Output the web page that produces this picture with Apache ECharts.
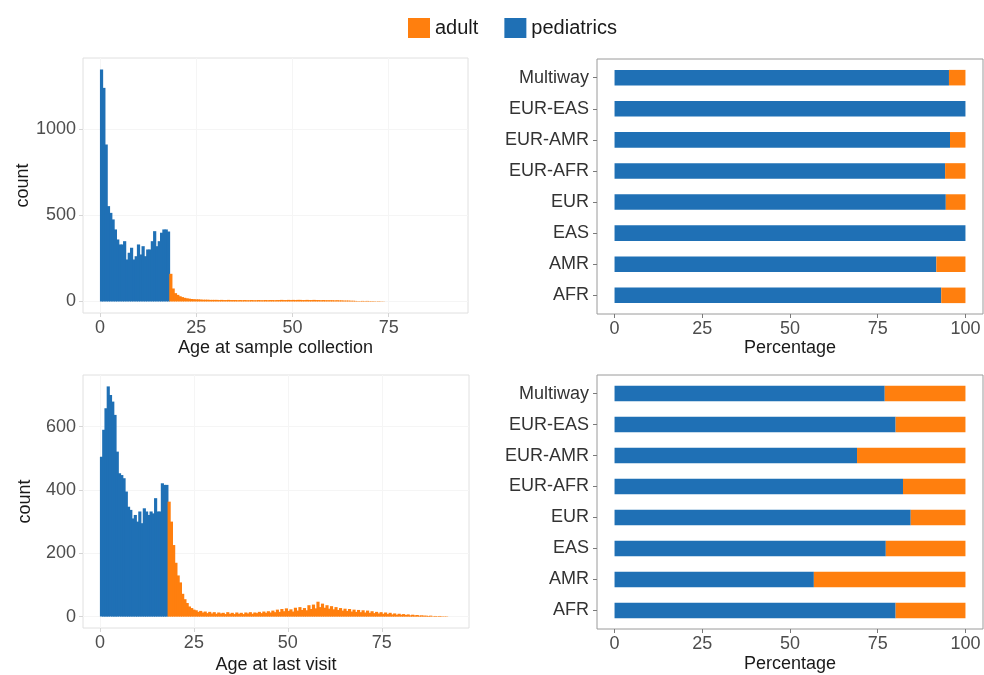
<!DOCTYPE html>
<html>
<head>
<meta charset="utf-8">
<script src="https://cdn.jsdelivr.net/npm/echarts@6/dist/echarts.min.js"></script>
<style>
  html, body { margin: 0; padding: 0; background: #ffffff; }
  #chart { width: 984px; height: 675px; }
</style>
</head>
<body>
<div id="chart"></div>
<script>
// Histogram bins: equal-width age bins (years); pediatric bins start at 0, adult bins at 18
const BIN_WIDTH = 0.6;
const PEDIATRIC_START = 0;
const ADULT_START = 18;

// Age at sample collection — counts per bin
const sampleAgePediatrics = [
  1343, 1237, 909, 552, 513, 475, 417, 359, 330, 330,
  349, 243, 282, 311, 243, 262, 330, 272, 320, 262,
  301, 301, 349, 407, 320, 349, 398, 417, 417, 405
];
const sampleAgeAdult = [
  160, 75, 48, 38, 30, 25, 21, 18, 16, 14,
  13, 12, 12, 11, 10, 10, 10, 9, 9, 9,
  9, 8, 9, 8, 8, 9, 8, 8, 8, 7,
  8, 7, 8, 7, 7, 8, 7, 7, 8, 7,
  7, 8, 7, 8, 8, 7, 8, 8, 9, 8,
  8, 9, 8, 9, 8, 9, 9, 8, 8, 9,
  8, 8, 9, 8, 8, 7, 8, 7, 7, 7,
  7, 6, 7, 6, 6, 5, 5, 5, 4, 4,
  3, 2, 2, 3, 2, 3, 2, 2, 2, 1,
  2, 1, 1, 0, 0, 0, 0, 0, 0, 0
];

// Age at last visit — counts per bin
const visitAgePediatrics = [
  505, 590, 658, 727, 700, 679, 637, 521, 453, 447,
  437, 395, 347, 337, 310, 321, 300, 332, 295, 342,
  332, 321, 332, 326, 374, 332, 332, 421, 416, 416
];
const visitAgeAdult = [
  363, 300, 226, 170, 130, 108, 72, 55, 43, 32,
  27, 22, 20, 15, 18, 13, 16, 11, 15, 10,
  14, 9, 13, 10, 12, 8, 14, 9, 12, 8,
  13, 9, 12, 8, 13, 10, 14, 9, 13, 11,
  15, 11, 16, 12, 17, 13, 19, 14, 22, 15,
  24, 17, 26, 18, 23, 16, 28, 19, 30, 21,
  27, 20, 36, 24, 38, 26, 47, 30, 41, 28,
  36, 25, 33, 23, 30, 21, 27, 19, 25, 18,
  24, 16, 22, 15, 21, 14, 20, 13, 19, 12,
  17, 11, 15, 10, 14, 9, 13, 8, 12, 7,
  10, 6, 9, 6, 8, 5, 7, 4, 6, 4,
  5, 3, 4, 3, 3, 2, 3, 1, 2, 1,
  2, 1, 1, 1
];

// Ancestry groups, bottom to top
const ancestryGroups = ['AFR', 'AMR', 'EAS', 'EUR', 'EUR-AFR', 'EUR-AMR', 'EUR-EAS', 'Multiway'];
// Pediatric share (%) per group; the remainder is adult
const pediatricShareSample = [93.1, 91.7, 100, 94.4, 94.2, 95.6, 100, 95.3];
const pediatricShareVisit = [80.1, 56.8, 77.3, 84.4, 82.2, 69.1, 80.1, 77.0];

// Tick labels
const ageTicks = [0, 25, 50, 75];
const sampleCountTicks = [0, 500, 1000];
const visitCountTicks = [0, 200, 400, 600];
const percentTicks = [0, 25, 50, 75, 100];

const COLOR_PEDIATRICS = '#1f70b5';
const COLOR_ADULT = '#ff7f0e';
const FONT = '"Liberation Sans", Arial, Helvetica, sans-serif';
const BAR_THICKNESS = 0.5;

function toBins(counts, start) {
  return counts.map((c, i) => [start + i * BIN_WIDTH, start + (i + 1) * BIN_WIDTH, c]);
}

// Histogram bin: each rect overlaps its right neighbour slightly so no seams show
function histRect(params, api) {
  const top = api.coord([api.value(0), api.value(2)]);
  const base = api.coord([api.value(1), 0]);
  return {
    type: 'rect',
    shape: { x: top[0], y: top[1], width: base[0] - top[0] + 0.9, height: base[1] - top[1] },
    style: { fill: api.visual('color') }
  };
}

function barRect(params, api) {
  const row = api.value(0);
  const a = api.coord([api.value(1), row]);
  const b = api.coord([api.value(2), row]);
  const h = api.size([0, BAR_THICKNESS])[1];
  return {
    type: 'rect',
    shape: { x: a[0], y: a[1] - h / 2, width: b[0] - a[0], height: h },
    style: { fill: api.visual('color') }
  };
}

const labelStyle = { fontFamily: FONT, fontSize: 18, color: '#4d4d4d' };
const nameStyle = { fontFamily: FONT, fontSize: 18, color: '#1a1a1a' };
const plainNumber = v => String(v);

function histXAxis(gridIndex, min, max, name, gap) {
  return {
    type: 'value', gridIndex, min, max, name, nameLocation: 'middle', nameGap: gap,
    nameTextStyle: nameStyle,
    axisLine: { show: false, onZero: false },
    axisTick: { show: true, length: 4, lineStyle: { color: '#d4d4d4' }, customValues: ageTicks },
    axisLabel: Object.assign({ margin: 6, customValues: ageTicks, formatter: plainNumber }, labelStyle),
    splitLine: { show: true, lineStyle: { color: '#f5f5f5' } }
  };
}
function histYAxis(gridIndex, min, max, ticks, gap) {
  return {
    type: 'value', gridIndex, min, max, name: 'count', nameLocation: 'middle', nameGap: gap,
    nameRotate: 90, nameTextStyle: nameStyle,
    axisLine: { show: false, onZero: false },
    axisTick: { show: true, length: 4, lineStyle: { color: '#d4d4d4' }, customValues: ticks },
    axisLabel: Object.assign({ margin: 7, customValues: ticks, formatter: plainNumber }, labelStyle),
    splitLine: { show: true, lineStyle: { color: '#f5f5f5' } }
  };
}
function pctXAxis(gridIndex, gap) {
  return {
    type: 'value', gridIndex, min: -5, max: 105, name: 'Percentage', nameLocation: 'middle',
    nameGap: gap, nameTextStyle: nameStyle,
    axisLine: { show: false, onZero: false },
    axisTick: { show: true, length: 4, lineStyle: { color: '#7a7a7a' }, customValues: percentTicks },
    axisLabel: Object.assign({ margin: 6, customValues: percentTicks, formatter: plainNumber }, labelStyle),
    splitLine: { show: false }
  };
}
function groupYAxis(gridIndex) {
  const rows = ancestryGroups.map((g, i) => i + 1);
  return {
    type: 'value', gridIndex, min: 0.4, max: ancestryGroups.length + 0.6,
    axisLine: { show: false, onZero: false },
    axisTick: { show: true, length: 4, lineStyle: { color: '#7a7a7a' }, customValues: rows },
    axisLabel: Object.assign({
      margin: 8, customValues: rows,
      formatter: v => ancestryGroups[Math.round(v) - 1] || ''
    }, labelStyle, { color: '#333333' }),
    splitLine: { show: false }
  };
}

function shareData(shares, part) {
  return shares.map((p, i) => part === 'pediatrics' ? [i + 1, 0, p] : [i + 1, p, 100]);
}

const chart = echarts.init(document.getElementById('chart'), null, { renderer: 'canvas' });
chart.setOption({
  animation: false,
  backgroundColor: '#ffffff',
  textStyle: { fontFamily: FONT },
  legend: {
    data: ['adult', 'pediatrics'],
    left: 403, top: 13,
    icon: 'rect', itemWidth: 22, itemHeight: 20, itemGap: 26,
    textStyle: { fontFamily: FONT, fontSize: 20, color: '#1a1a1a' }
  },
  grid: [
    { left: 83, top: 58, width: 385, height: 255, show: true, borderColor: '#e0e0e0', borderWidth: 1 },
    { left: 597, top: 59, width: 386, height: 255, show: true, borderColor: '#9a9a9a', borderWidth: 1 },
    { left: 83, top: 375, width: 386, height: 253, show: true, borderColor: '#e0e0e0', borderWidth: 1 },
    { left: 597, top: 375, width: 386, height: 254, show: true, borderColor: '#9a9a9a', borderWidth: 1 }
  ],
  xAxis: [
    histXAxis(0, -4.4, 95.6, 'Age at sample collection', 26),
    pctXAxis(1, 25),
    histXAxis(2, -4.5, 98.2, 'Age at last visit', 28),
    pctXAxis(3, 26)
  ],
  yAxis: [
    histYAxis(0, -67, 1410, sampleCountTicks, 50),
    groupYAxis(1),
    histYAxis(2, -36, 763, visitCountTicks, 49),
    groupYAxis(3)
  ],
  series: [
    { name: 'pediatrics', type: 'custom', xAxisIndex: 0, yAxisIndex: 0, renderItem: histRect,
      itemStyle: { color: COLOR_PEDIATRICS }, encode: { x: [0, 1], y: 2 },
      data: toBins(sampleAgePediatrics, PEDIATRIC_START) },
    { name: 'adult', type: 'custom', xAxisIndex: 0, yAxisIndex: 0, renderItem: histRect,
      itemStyle: { color: COLOR_ADULT }, encode: { x: [0, 1], y: 2 },
      data: toBins(sampleAgeAdult, ADULT_START) },
    { name: 'pediatrics', type: 'custom', xAxisIndex: 2, yAxisIndex: 2, renderItem: histRect,
      itemStyle: { color: COLOR_PEDIATRICS }, encode: { x: [0, 1], y: 2 },
      data: toBins(visitAgePediatrics, PEDIATRIC_START) },
    { name: 'adult', type: 'custom', xAxisIndex: 2, yAxisIndex: 2, renderItem: histRect,
      itemStyle: { color: COLOR_ADULT }, encode: { x: [0, 1], y: 2 },
      data: toBins(visitAgeAdult, ADULT_START) },
    { name: 'pediatrics', type: 'custom', xAxisIndex: 1, yAxisIndex: 1, renderItem: barRect,
      itemStyle: { color: COLOR_PEDIATRICS }, encode: { x: [1, 2], y: 0 },
      data: shareData(pediatricShareSample, 'pediatrics') },
    { name: 'adult', type: 'custom', xAxisIndex: 1, yAxisIndex: 1, renderItem: barRect,
      itemStyle: { color: COLOR_ADULT }, encode: { x: [1, 2], y: 0 },
      data: shareData(pediatricShareSample, 'adult') },
    { name: 'pediatrics', type: 'custom', xAxisIndex: 3, yAxisIndex: 3, renderItem: barRect,
      itemStyle: { color: COLOR_PEDIATRICS }, encode: { x: [1, 2], y: 0 },
      data: shareData(pediatricShareVisit, 'pediatrics') },
    { name: 'adult', type: 'custom', xAxisIndex: 3, yAxisIndex: 3, renderItem: barRect,
      itemStyle: { color: COLOR_ADULT }, encode: { x: [1, 2], y: 0 },
      data: shareData(pediatricShareVisit, 'adult') }
  ]
});
</script>
</body>
</html>
